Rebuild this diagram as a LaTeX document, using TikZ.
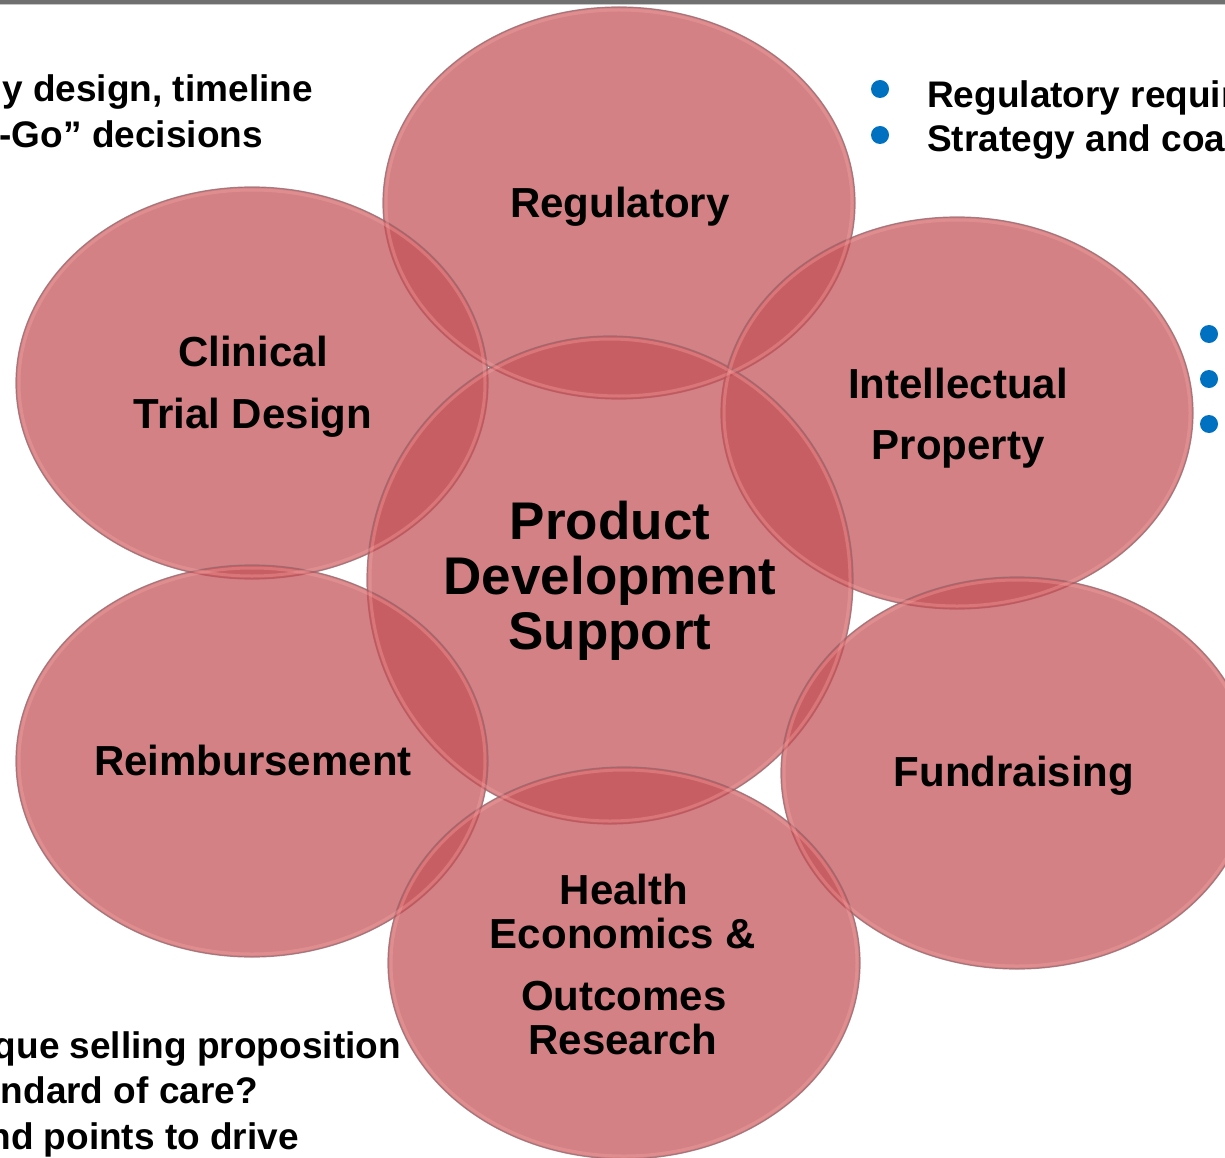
\documentclass[tikz,border=0pt]{standalone}
\usepackage{fontspec}
\setmainfont{Liberation Sans}
\usetikzlibrary{shapes.geometric}
\definecolor{petalfill}{RGB}{195,81,87}
\definecolor{rimcol}{RGB}{150,105,110}
\definecolor{glowcol}{RGB}{250,165,165}
\definecolor{bulletcol}{RGB}{0,112,192}
\definecolor{topbar}{RGB}{112,112,112}
\tikzset{
  petalshape/.style={ellipse, inner sep=0pt, minimum width=472pt, minimum height=392pt,
    fill=petalfill, fill opacity=0.72, draw=rimcol, draw opacity=0.8, line width=1.2pt},
  hubshape/.style={petalshape, minimum width=486pt, minimum height=488pt},
  glowring/.style={glowcol, line width=3pt, opacity=0.35},
  lbl/.style={anchor=base, inner sep=0pt, font=\fontsize{42}{50}\selectfont\bfseries},
  biglbl/.style={anchor=base, inner sep=0pt, font=\fontsize{53}{60}\selectfont\bfseries},
  sidee/.style={anchor=base east, inner sep=0pt, font=\fontsize{37}{44}\selectfont\bfseries},
  sidew/.style={anchor=base west, inner sep=0pt, font=\fontsize{37}{44}\selectfont\bfseries},
  dot/.style={circle, fill=bulletcol, inner sep=0pt, minimum size=18pt},
}
\begin{document}
\begin{tikzpicture}[x=1pt,y=-1pt]
\useasboundingbox (0,0) rectangle (1225,1158);
\clip (0,0) rectangle (1225,1158);
\fill[white] (0,0) rectangle (1225,1158);
\fill[topbar] (0,0) rectangle (1225,4);
\draw[gray!45, line width=1pt] (0,4.5) -- (1225,4.5);

% circles
\node[petalshape] (reg) at (619,203) {};
\node[petalshape] (ctd) at (252,383) {};
\node[petalshape] (ip) at (957,413) {};
\node[hubshape] (pds) at (610,580) {};
\node[petalshape] (reim) at (252,761) {};
\node[petalshape] (fund) at (1017,773) {};
\node[petalshape] (heor) at (624,963) {};
\foreach \n in {reg,ctd,ip,reim,fund,heor}
  \draw[glowring] (\n.center) ellipse [x radius=233pt, y radius=193pt];
\draw[glowring] (pds.center) ellipse [x radius=240pt, y radius=241pt];

% labels
\node[lbl] (reg-t) at (620,218) {Regulatory};
\node[lbl] (ctd-t1) at (253,366) {Clinical};
\node[lbl] (ctd-t2) at (253,428) {Trial Design};
\node[lbl] (ip-t1) at (958,398) {Intellectual};
\node[lbl] (ip-t2) at (958,459) {Property};
\node[biglbl] (pds-t1) at (610,539) {Product};
\node[biglbl] (pds-t2) at (610,594) {Development};
\node[biglbl] (pds-t3) at (610,649) {Support};
\node[lbl] (reim-t) at (253,775) {Reimbursement};
\node[lbl] (fund-t) at (1014,786) {Fundraising};
\node[lbl] (heor-t1) at (624,904) {Health};
\node[lbl] (heor-t2) at (623,948) {Economics \&};
\node[lbl] (heor-t3) at (624,1010) {Outcomes};
\node[lbl] (heor-t4) at (623,1054) {Research};

% side texts
\node[sidee] (tl1) at (313,102) {y design, timeline};
\node[sidee] (tl2) at (263,148) {-Go” decisions};
\node[dot] (b1) at (880,89) {};
\node[dot] (b2) at (880,135) {};
\node[sidew] (tr1) at (927,108) {Regulatory requir};
\node[sidew] (tr2) at (927,152) {Strategy and coa};
\node[dot] (b3) at (1209,334) {};
\node[dot] (b4) at (1209,379) {};
\node[dot] (b5) at (1209,424) {};
\node[sidee] (bl1) at (401,1058) {que selling proposition};
\node[sidee] (bl2) at (258,1103) {ndard of care?};
\node[sidee] (bl3) at (299,1149) {nd points to drive};
\end{tikzpicture}
\end{document}
